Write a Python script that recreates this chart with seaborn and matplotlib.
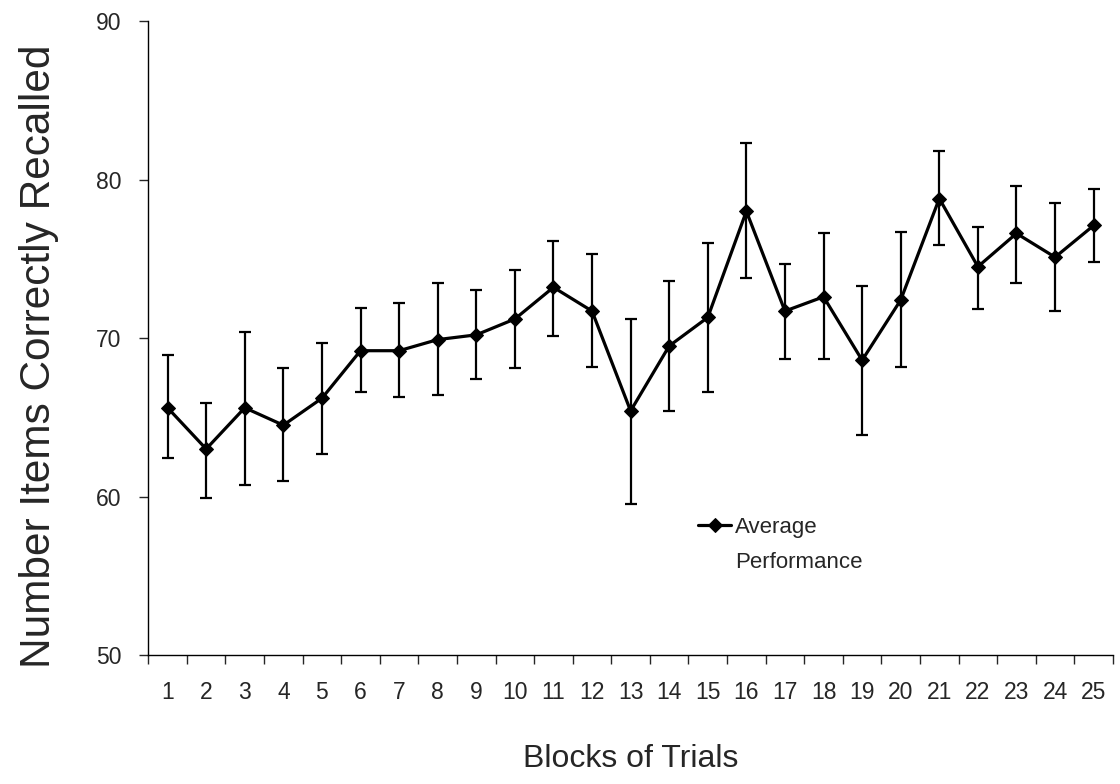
# Average recall performance across blocks of trials

import numpy as np
import pandas as pd
import seaborn as sns
import matplotlib.pyplot as plt

# Block numbers (x axis categories)
blocks = list(range(1, 26))

# Mean number of items recalled per block
means = [65.6, 63.0, 65.6, 64.5, 66.2, 69.2, 69.2, 69.9, 70.2, 71.2,
         73.2, 71.7, 65.4, 69.5, 71.3, 78.0, 71.7, 72.6, 68.6, 72.4,
         78.8, 74.5, 76.6, 75.1, 77.1]

# Top and bottom of each error bar
upper = [68.9, 65.9, 70.4, 68.1, 69.7, 71.9, 72.2, 73.5, 73.0, 74.3,
         76.1, 75.3, 71.2, 73.6, 76.0, 82.3, 74.7, 76.6, 73.3, 76.7,
         81.8, 77.0, 79.6, 78.5, 79.4]
lower = [62.4, 59.9, 60.7, 61.0, 62.7, 66.6, 66.3, 66.4, 67.4, 68.1,
         70.1, 68.2, 59.5, 65.4, 66.6, 73.8, 68.7, 68.7, 63.9, 68.2,
         75.9, 71.8, 73.5, 71.7, 74.8]

y_ticks = [50, 60, 70, 80, 90]

sns.set_style("ticks")
plt.rcParams['font.family'] = ['Liberation Sans', 'DejaVu Sans']

fig = plt.figure(figsize=(11.2, 7.84), dpi=100)
ax = fig.add_axes([0.1324, 0.1645, 0.8613, 0.8087])

df = pd.DataFrame({"block": blocks, "mean": means})

# Error bars first so the line and markers sit on top
yerr = [np.array(means) - np.array(lower), np.array(upper) - np.array(means)]
ax.errorbar(blocks, means, yerr=yerr, fmt='none', ecolor='black',
            elinewidth=1.6, capsize=4.5, capthick=1.6)

sns.lineplot(data=df, x="block", y="mean", marker="D", markersize=7,
             markeredgecolor="black", color="black", linewidth=2.3,
             label="Average", ax=ax)

# Axis ranges and ticks: labels at block centres, tick marks between blocks
ax.set_xlim(0.5, 25.5)
ax.set_ylim(50, 90)
ax.set_yticks(y_ticks)
ax.set_xticks(blocks)
ax.set_xticks(np.arange(0.5, 26, 1), minor=True)
ax.tick_params(axis='x', which='major', length=0, pad=19, labelsize=16.5)
ax.tick_params(axis='x', which='minor', length=6.5, width=1, direction='out')
ax.tick_params(axis='y', length=6.5, width=1, pad=13, labelsize=16.5)

sns.despine(ax=ax)
for side in ['left', 'bottom']:
    ax.spines[side].set_linewidth(1)
    ax.spines[side].set_color('black')

ax.set_xlabel("Blocks of Trials", fontsize=23)
ax.set_ylabel("Number Items Correctly Recalled", fontsize=30.5)
ax.xaxis.set_label_coords(0.5, -0.14)
ax.yaxis.set_label_coords(-0.093, 0.472)

# Legend: handle beside first line of the label, second line below
ax.legend(loc='center left', bbox_to_anchor=(698 / 1120, 1 - 527 / 784),
          bbox_transform=fig.transFigure, frameon=False, fontsize=16,
          handlelength=1.5, handletextpad=0.15, borderpad=0, borderaxespad=0)
fig.text(735 / 1120, 1 - 562 / 784, "Performance", fontsize=16,
         va='center', ha='left')

plt.savefig("out.png", dpi=100)
